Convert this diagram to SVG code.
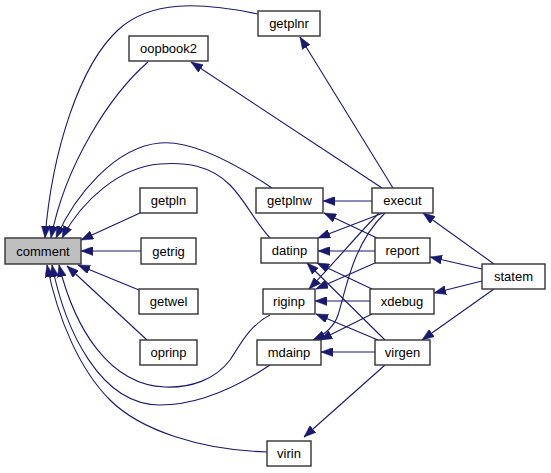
<svg xmlns="http://www.w3.org/2000/svg" width="551" height="473" viewBox="0 0 551 473">
<style>
.node rect{fill:#fff;stroke:#333;stroke-width:1.4}
.node text{font-family:"Liberation Sans",Arial,sans-serif;font-size:13px;fill:#000;text-anchor:middle}
.edges path{fill:none;stroke:#191970;stroke-width:1.1;marker-end:url(#arr)}
</style>
<defs>
<marker id="arr" viewBox="0 0 12 9" refX="12" refY="4.5" markerWidth="12" markerHeight="9" markerUnits="userSpaceOnUse" orient="auto">
<path d="M0,0 L12,4.5 L0,9 z" fill="#191970" stroke="#191970" stroke-width="0.5"/>
</marker>
</defs>
<rect width="551" height="473" fill="#fff"/>
<g class="edges" id="connectors">
<path d="M258,14 C200,2 150,0 118,30 C80,65 52,150 45,238"/>
<path d="M148,62 C110,95 65,165 51,238"/>
<path d="M272,188 C230,160 190,140 160,143 C115,147 75,195 56,238"/>
<path d="M270,238 C255,222 245,200 230,185 C210,165 185,162 160,164 C120,167 82,200 62,238"/>
<path d="M140,213 L81,240"/>
<path d="M141,251 L81,251"/>
<path d="M139,290 L78,265"/>
<path d="M147,340 L67,266"/>
<path d="M270,315 C250,325 240,345 230,360 C215,380 190,388 165,387 C110,385 75,330 59,265"/>
<path d="M270,365 C240,385 200,405 160,405 C100,405 65,330 52,265"/>
<path d="M267,452 C200,450 140,430 110,400 C80,370 58,320 47,265"/>
<path d="M393,188 L300,37"/>
<path d="M382,188 L191,62"/>
<path d="M372,201 L323,201"/>
<path d="M383,213 L318,238"/>
<path d="M379,213 C360,232 335,262 309,289"/>
<path d="M385,213 C352,245 346,290 338,315 C334,327 326,334 313,340"/>
<path d="M377,238 L324,213"/>
<path d="M375,251 L318,251"/>
<path d="M375,263 L316,289"/>
<path d="M372,289 L317,263"/>
<path d="M385,340 L307,263"/>
<path d="M370,301 L315,301"/>
<path d="M372,314 L320,340"/>
<path d="M378,340 L316,314"/>
<path d="M375,352 L321,352"/>
<path d="M385,365 L304,437"/>
<path d="M494,264 L423,213"/>
<path d="M482,269 L430,257"/>
<path d="M482,281 L434,293"/>
<path d="M494,289 L422,340"/>
</g>
<g class="node" id="comment"><rect x="5" y="238" width="76" height="26" style="fill:#bfbfbf"/><text x="43" y="255.5">comment</text></g>
<g class="node" id="getplnr"><rect x="258" y="11" width="62" height="25"/><text x="289" y="28">getplnr</text></g>
<g class="node" id="oopbook2"><rect x="129" y="36" width="79" height="25"/><text x="168.5" y="53">oopbook2</text></g>
<g class="node" id="getpln"><rect x="140" y="188" width="57" height="25"/><text x="168.5" y="205">getpln</text></g>
<g class="node" id="getplnw"><rect x="256" y="188" width="67" height="25"/><text x="289.5" y="205">getplnw</text></g>
<g class="node" id="execut"><rect x="372" y="188" width="61" height="25"/><text x="402.5" y="205">execut</text></g>
<g class="node" id="getrig"><rect x="141" y="238" width="55" height="26"/><text x="168.5" y="255.5">getrig</text></g>
<g class="node" id="datinp"><rect x="261" y="238" width="57" height="25"/><text x="289.5" y="255">datinp</text></g>
<g class="node" id="report"><rect x="375" y="238" width="55" height="25"/><text x="402.5" y="255">report</text></g>
<g class="node" id="statem"><rect x="482" y="264" width="63" height="25"/><text x="513.5" y="281">statem</text></g>
<g class="node" id="getwel"><rect x="139" y="289" width="59" height="25"/><text x="168.5" y="306">getwel</text></g>
<g class="node" id="riginp"><rect x="263" y="289" width="52" height="25"/><text x="289" y="306">riginp</text></g>
<g class="node" id="xdebug"><rect x="370" y="289" width="64" height="25"/><text x="402" y="306">xdebug</text></g>
<g class="node" id="oprinp"><rect x="140" y="340" width="57" height="25"/><text x="168.5" y="357">oprinp</text></g>
<g class="node" id="mdainp"><rect x="257" y="340" width="64" height="25"/><text x="289" y="357">mdainp</text></g>
<g class="node" id="virgen"><rect x="375" y="340" width="55" height="25"/><text x="402.5" y="357">virgen</text></g>
<g class="node" id="virin"><rect x="267" y="441" width="44" height="25"/><text x="289" y="458">virin</text></g>
</svg>
